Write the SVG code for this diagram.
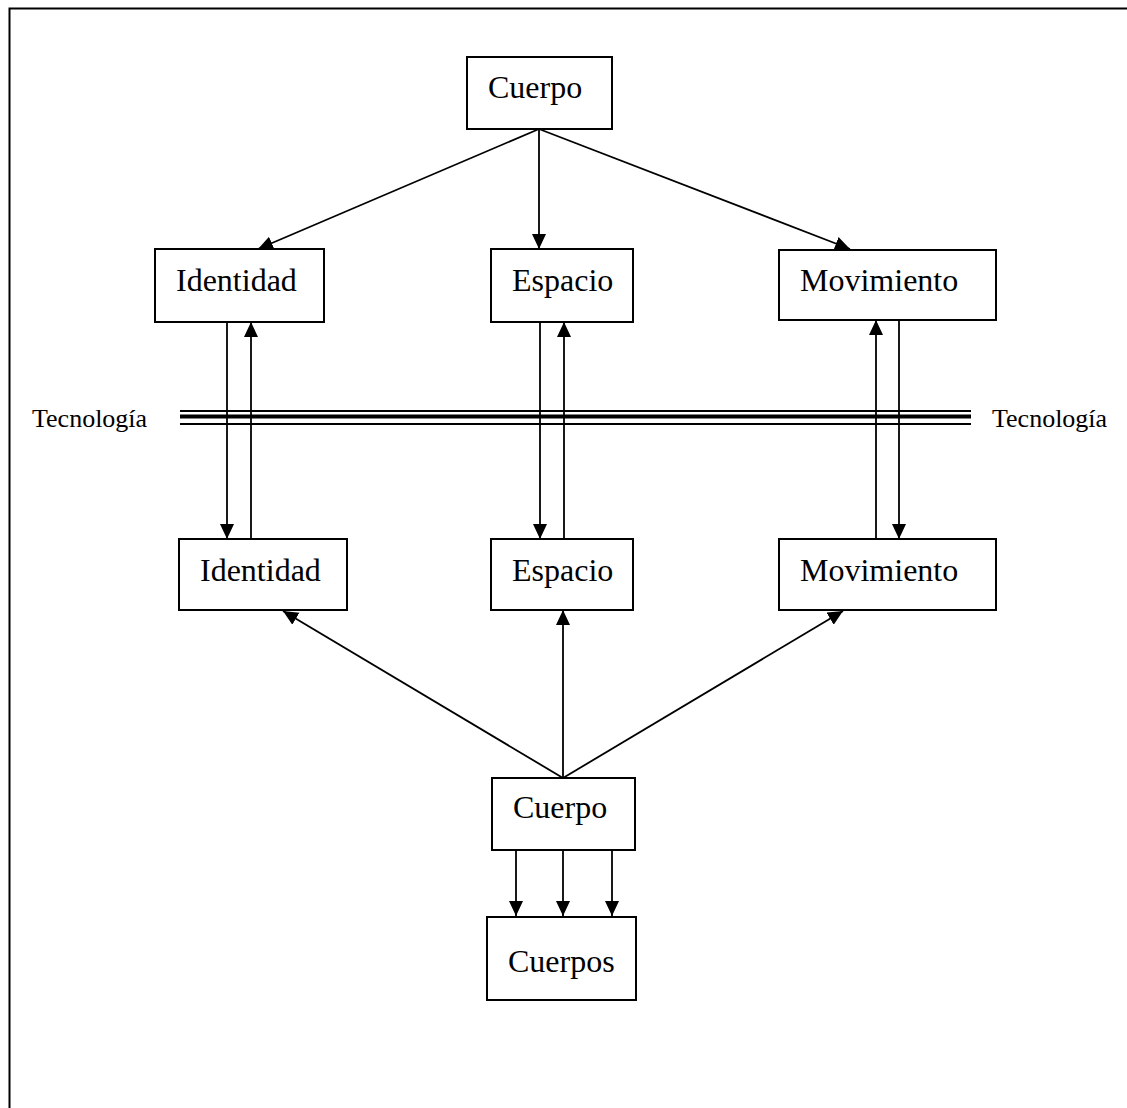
<svg xmlns="http://www.w3.org/2000/svg" width="1127" height="1108" viewBox="0 0 1127 1108">
  <style>
    .box { fill: #fff; stroke: #000; stroke-width: 2; }
    .lbl { font-family: "Liberation Serif", "Times New Roman", serif; font-size: 32px; fill: #000; }
    .side { font-family: "Liberation Serif", "Times New Roman", serif; font-size: 26px; fill: #000; }
    .link { stroke: #000; stroke-width: 1.8; fill: none; marker-end: url(#arrow); }
  </style>
  <defs>
    <marker id="arrow" markerUnits="userSpaceOnUse" markerWidth="16" markerHeight="16" refX="15" refY="7" orient="auto">
      <path d="M0,0 L15,7 L0,14 z" fill="#000"/>
    </marker>
  </defs>

  <rect width="1127" height="1108" fill="#fff"/>
  <!-- page frame -->
  <rect x="9.5" y="8.5" width="1130" height="1110" fill="none" stroke="#000" stroke-width="2"/>

  <!-- technology barrier -->
  <g id="tecnologia">
    <line x1="180" y1="411" x2="971" y2="411" stroke="#000" stroke-width="2"/>
    <line x1="180" y1="416.5" x2="971" y2="416.5" stroke="#000" stroke-width="4"/>
    <line x1="180" y1="424" x2="971" y2="424" stroke="#000" stroke-width="2"/>
    <text class="side" x="32" y="427">Tecnología</text>
    <text class="side" x="992" y="427">Tecnología</text>
  </g>

  <g id="connectors">
    <!-- top Cuerpo to first row -->
    <line class="link" x1="539" y1="129" x2="258" y2="249"/>
    <line class="link" x1="539" y1="129" x2="539" y2="249"/>
    <line class="link" x1="539" y1="129" x2="850" y2="249"/>
    <!-- through the barrier -->
    <line class="link" x1="227" y1="322" x2="227" y2="539"/>
    <line class="link" x1="251" y1="539" x2="251" y2="322"/>
    <line class="link" x1="540" y1="322" x2="540" y2="539"/>
    <line class="link" x1="564" y1="539" x2="564" y2="322"/>
    <line class="link" x1="876" y1="539" x2="876" y2="320"/>
    <line class="link" x1="899" y1="320" x2="899" y2="539"/>
    <!-- bottom Cuerpo to second row -->
    <line class="link" x1="563" y1="778" x2="283" y2="611"/>
    <line class="link" x1="563" y1="778" x2="563" y2="610"/>
    <line class="link" x1="563" y1="778" x2="843" y2="611"/>
    <!-- bottom Cuerpo to Cuerpos -->
    <line class="link" x1="516" y1="850" x2="516" y2="916"/>
    <line class="link" x1="563" y1="850" x2="563" y2="916"/>
    <line class="link" x1="612" y1="850" x2="612" y2="916"/>
  </g>

  <g id="cuerpo-top">
    <rect class="box" x="467" y="57" width="145" height="72"/>
    <text class="lbl" x="488" y="98">Cuerpo</text>
  </g>
  <g id="identidad-1">
    <rect class="box" x="155" y="249" width="169" height="73"/>
    <text class="lbl" x="176" y="291">Identidad</text>
  </g>
  <g id="espacio-1">
    <rect class="box" x="491" y="249" width="142" height="73"/>
    <text class="lbl" x="512" y="291">Espacio</text>
  </g>
  <g id="movimiento-1">
    <rect class="box" x="779" y="250" width="217" height="70"/>
    <text class="lbl" x="800" y="291">Movimiento</text>
  </g>
  <g id="identidad-2">
    <rect class="box" x="179" y="539" width="168" height="71"/>
    <text class="lbl" x="200" y="581">Identidad</text>
  </g>
  <g id="espacio-2">
    <rect class="box" x="491" y="539" width="142" height="71"/>
    <text class="lbl" x="512" y="581">Espacio</text>
  </g>
  <g id="movimiento-2">
    <rect class="box" x="779" y="539" width="217" height="71"/>
    <text class="lbl" x="800" y="581">Movimiento</text>
  </g>
  <g id="cuerpo-bottom">
    <rect class="box" x="492" y="778" width="143" height="72"/>
    <text class="lbl" x="513" y="818">Cuerpo</text>
  </g>
  <g id="cuerpos">
    <rect class="box" x="487" y="917" width="149" height="83"/>
    <text class="lbl" x="508" y="972">Cuerpos</text>
  </g>
</svg>
